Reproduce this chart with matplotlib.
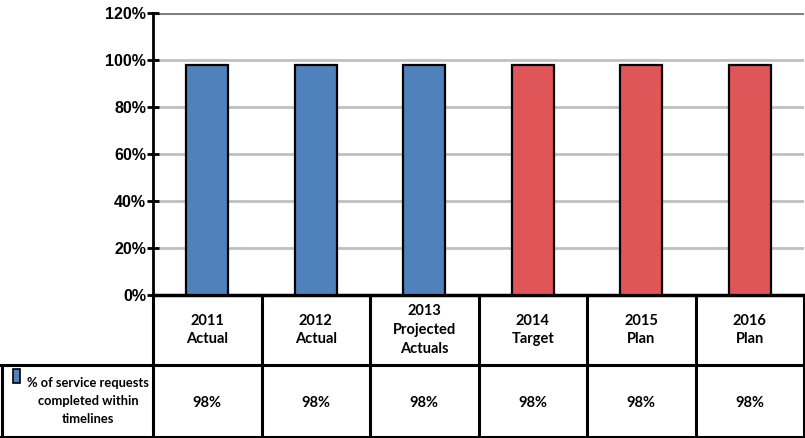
import matplotlib
matplotlib.use("Agg")
import matplotlib.pyplot as plt
from matplotlib.lines import Line2D
from matplotlib.patches import Rectangle
from matplotlib.transforms import blended_transform_factory

categories = ["2011\nActual", "2012\nActual", "2013\nProjected\nActuals",
              "2014\nTarget", "2015\nPlan", "2016\nPlan"]
values = [0.98, 0.98, 0.98, 0.98, 0.98, 0.98]
bar_colors = ["#4F81BD", "#4F81BD", "#4F81BD", "#E05558", "#E05558", "#E05558"]
series_label = "% of service requests\ncompleted within\ntimelines"
y_ticks = [0, 0.2, 0.4, 0.6, 0.8, 1.0, 1.2]
y_labels = ["0%", "20%", "40%", "60%", "80%", "100%", "120%"]

W, H = 805, 438
fig = plt.figure(figsize=(W / 100, H / 100), dpi=100)

def fy(py):
    return (H - py) / H

def fx(px):
    return px / W

ax_left, ax_right, ax_top, ax_bottom = 153, 804, 13, 295
ax = fig.add_axes([fx(ax_left), fy(ax_bottom), fx(ax_right - ax_left), fy(ax_top) - fy(ax_bottom)])

n = len(categories)
x = list(range(n))
ax.bar(x, values, width=0.39, color=bar_colors, edgecolor="black", linewidth=1.6, zorder=3)
ax.set_xlim(-0.5, n - 0.5)
ax.set_ylim(0, 1.2)
ax.set_yticks(y_ticks)
ax.set_yticklabels(y_labels, fontsize=11.5, fontweight="bold", family="Liberation Sans")
ax.set_xticks([])
for t in y_ticks[1:-1]:
    ax.axhline(t, color="#C0C0C0", linewidth=2, zorder=1)
ax.axhline(1.2, color="#808080", linewidth=2.2, zorder=1)
for s in ["top", "right"]:
    ax.spines[s].set_visible(False)
ax.spines["left"].set_linewidth(2)
ax.spines["bottom"].set_linewidth(2.5)
ax.tick_params(axis="y", direction="inout", length=8, width=2, pad=1)

# Data table beneath the axes
tr = blended_transform_factory(ax.transData, fig.transFigure)
row_split = 365
table_bottom = 437
lw = 2.2
# column separators
for i in range(n + 1):
    xb = i - 0.5
    fig.add_artist(Line2D([xb, xb], [fy(ax_bottom), fy(table_bottom)], transform=tr,
                          color="black", linewidth=lw))
# horizontal row lines
fig.add_artist(Line2D([fx(1), fx(ax_right)], [fy(row_split), fy(row_split)],
                      transform=fig.transFigure, color="black", linewidth=lw))
fig.add_artist(Line2D([fx(1), fx(ax_right)], [fy(table_bottom), fy(table_bottom)],
                      transform=fig.transFigure, color="black", linewidth=lw))
fig.add_artist(Line2D([fx(1.5), fx(1.5)], [fy(row_split), fy(table_bottom)],
                      transform=fig.transFigure, color="black", linewidth=lw))

for i, (c, v) in enumerate(zip(categories, values)):
    fig.text(i, fy((ax_bottom + row_split) / 2), c, transform=tr, ha="center", va="center",
             fontsize=10.5, fontweight="bold", family="Lato", linespacing=1.45)
    fig.text(i, fy(403), f"{v:.0%}", transform=tr, ha="center",
             va="center", fontsize=10.5, fontweight="bold", family="Lato")

# Row header with legend key
fig.add_artist(Rectangle((fx(13), fy(383)), fx(7), fy(369) - fy(383), transform=fig.transFigure,
                         facecolor="#4F81BD", edgecolor="black", linewidth=1.2))
fig.text(fx(88), fy(401), series_label, ha="center", va="center", fontsize=9.3,
         family="Lato", fontweight="bold", linespacing=1.6)

fig.savefig("out.png", dpi=100)
